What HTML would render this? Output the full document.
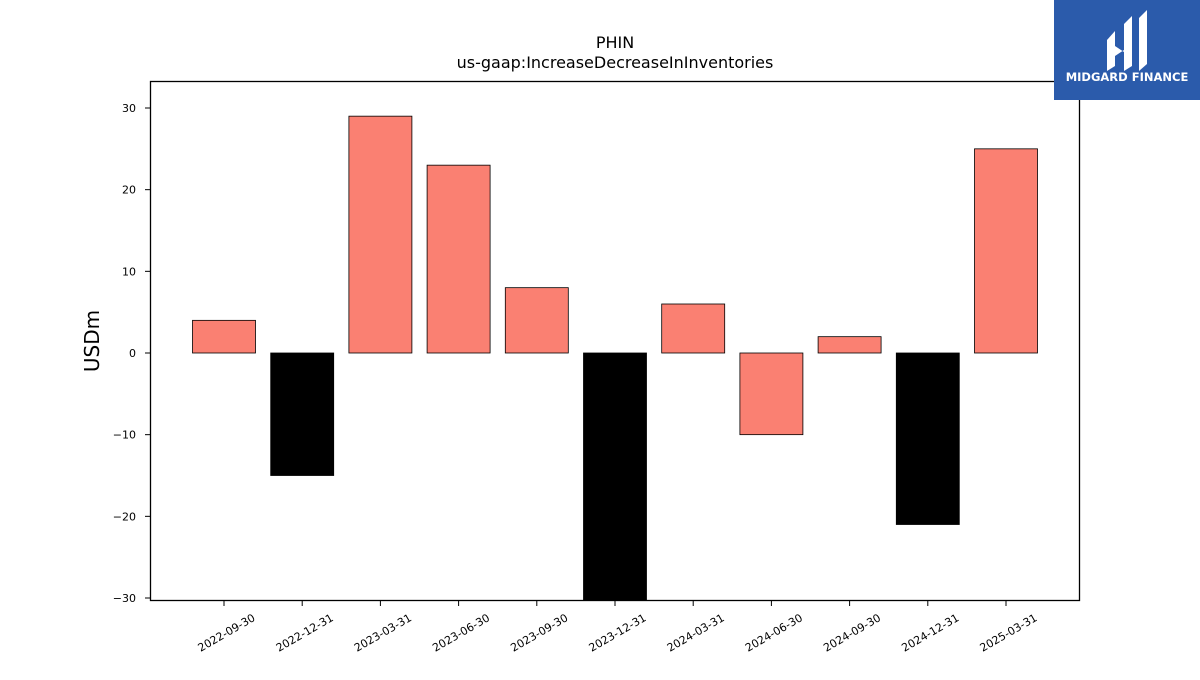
<!DOCTYPE html>
<html><head><meta charset="utf-8">
<style>
body{margin:0;background:#fff;font-family:"Liberation Sans","DejaVu Sans",sans-serif;}
svg text{font-family:"DejaVu Sans","Liberation Sans",sans-serif;}
</style></head>
<body>
<svg id="chart" width="1200" height="675" xmlns="http://www.w3.org/2000/svg">
<rect width="1200" height="675" fill="#fff"/>
<text x="615" y="48" font-size="16" text-anchor="middle">PHIN</text>
<text x="615" y="68" font-size="16" text-anchor="middle">us-gaap:IncreaseDecreaseInInventories</text>
<text x="99" y="341" font-size="20" text-anchor="middle" transform="rotate(-90 99 341)">USDm</text>
<g id="bars"></g>
<g id="yticks"></g>
<g id="xticks"></g>
<rect x="150.5" y="81.5" width="929" height="519" fill="none" stroke="#000" stroke-width="1.3"/>
<g>
<rect x="1054" y="0" width="146" height="100" fill="#2b5bab"/>
<path d="M1107 40 L1115 31 L1115 66 L1107 71 Z" fill="#fff"/>
<path d="M1124 24 L1132 16 L1132 66 L1124 71 Z" fill="#fff"/>
<path d="M1139 18 L1147 10 L1147 64 L1139 71 Z" fill="#fff"/>
<path d="M1115 46 L1124 52 L1132 46 L1132 56 L1124 50 L1115 56 Z" fill="#fff"/>
<text x="1127" y="81" font-size="11.5" font-weight="bold" fill="#fff" text-anchor="middle">MIDGARD FINANCE</text>
</g>
</svg>
<script>
const categories=["2022-09-30","2022-12-31","2023-03-31","2023-06-30","2023-09-30","2023-12-31","2024-03-31","2024-06-30","2024-09-30","2024-12-31","2025-03-31"];
const values=[4,-15,29,23,8,-32,6,-10,2,-21,25];
const barColors=["#fa8072","#000000","#fa8072","#fa8072","#fa8072","#000000","#fa8072","#fa8072","#fa8072","#000000","#fa8072"];
const yTickValues=[-30,-20,-10,0,10,20,30];
const NS="http://www.w3.org/2000/svg";
const plotTop=81.5,plotBottom=600.5;
function y(v){return 353-v*8.1667;}
function x(i){return 224+i*78.2;}
const bw=63;
const bars=document.getElementById('bars');
values.forEach((v,i)=>{
  const r=document.createElementNS(NS,'rect');
  
  
  let y0=Math.max(Math.min(y(v),y(0)),plotTop);
  let y1=Math.min(Math.max(y(v),y(0)),plotBottom);
  r.setAttribute('x',x(i)-bw/2);r.setAttribute('y',y0);
  r.setAttribute('width',bw);r.setAttribute('height',y1-y0);
  r.setAttribute('fill',barColors[i]);r.setAttribute('stroke','#000');r.setAttribute('stroke-width','0.8');
  bars.appendChild(r);
});
const yt=document.getElementById('yticks');
yTickValues.forEach(v=>{
  const l=document.createElementNS(NS,'line');
  
  
  l.setAttribute('x1',145);l.setAttribute('x2',150);l.setAttribute('y1',y(v));l.setAttribute('y2',y(v));l.setAttribute('stroke','#000');
  yt.appendChild(l);
  const t=document.createElementNS(NS,'text');
  
  
  t.setAttribute('x',136);t.setAttribute('y',y(v)+4);t.setAttribute('font-size','11');t.setAttribute('text-anchor','end');
  t.textContent=v<0?'\u2212'+Math.abs(v):String(v);
  yt.appendChild(t);
});
const xt=document.getElementById('xticks');
categories.forEach((c,i)=>{
  const l=document.createElementNS(NS,'line');
  
  
  l.setAttribute('x1',x(i));l.setAttribute('x2',x(i));l.setAttribute('y1',601);l.setAttribute('y2',606);l.setAttribute('stroke','#000');
  xt.appendChild(l);
  const t=document.createElementNS(NS,'text');
  
  
  const tx=x(i)+32,ty=620;
  t.setAttribute('x',tx);t.setAttribute('y',ty);t.setAttribute('font-size','11');t.setAttribute('text-anchor','end');
  t.setAttribute('transform','rotate(-30 '+tx+' '+ty+')');
  t.textContent=c;
  xt.appendChild(t);
});
</script>
</body></html>
